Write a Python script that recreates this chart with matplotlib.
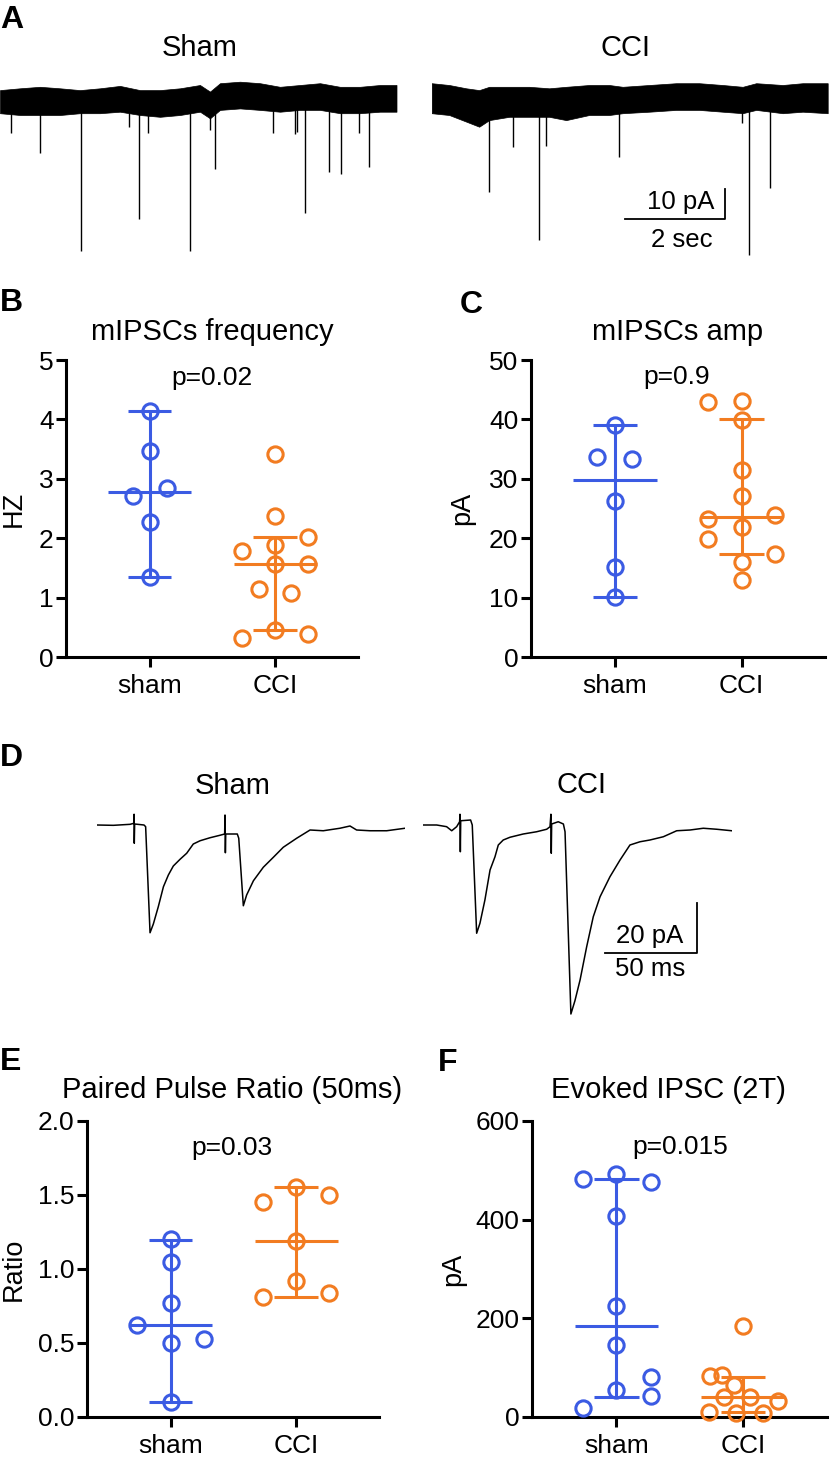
import matplotlib
matplotlib.use("Agg")
import matplotlib.pyplot as plt
import numpy as np

plt.rcParams["font.family"] = ["Liberation Sans", "DejaVu Sans"]

W, H = 831, 1461
BLUE = "#3B5BE3"
ORANGE = "#F27C21"

# ---- A: mIPSC traces (time s, current pA) ----
a_sham_env_t = [0.0, 0.4, 0.8, 1.2, 1.6, 2.0, 2.4, 2.8, 3.2, 3.6, 4.0, 4.2, 4.4, 4.8,
                5.2, 5.6, 6.0, 6.4, 6.8, 7.2, 7.6, 7.93]
a_sham_env_up = [3.3, 3.9, 4.4, 3.9, 3.3, 3.9, 4.7, 3.3, 3.3, 3.9, 5.0, 2.8, 5.6, 6.1,
                 5.6, 4.4, 5.0, 5.6, 4.4, 4.4, 5.0, 5.0]
a_sham_env_lo = [-4.4, -5.0, -5.0, -5.0, -4.4, -4.4, -3.9, -5.0, -5.6, -5.0, -3.9, -6.1, -3.3, -2.8,
                 -3.3, -3.9, -3.3, -3.3, -4.4, -4.4, -3.9, -3.9]
a_sham_evt_t = [0.21, 0.79, 1.61, 2.58, 2.77, 2.95, 3.79, 4.19, 4.31, 5.45, 5.89, 5.93,
                6.09, 6.57, 6.81, 7.17, 7.38]
a_sham_evt_amp = [-10.9, -17.8, -50.2, -8.9, -39.8, -11.0, -50.2, -10.0, -23.0, -11.1, -11.3, -10.6,
                  -37.6, -23.9, -24.7, -10.9, -22.4]

a_cci_env_t = [0.0, 0.35, 0.69, 0.95, 1.15, 1.55, 1.95, 2.35, 2.69, 3.15, 3.55, 3.82, 4.35,
               4.89, 5.35, 5.82, 6.22, 6.49, 7.02, 7.42, 7.92]
a_cci_env_up = [5.6, 5.0, 3.9, 3.3, 4.4, 4.4, 4.4, 3.9, 4.4, 5.0, 5.0, 4.4, 5.0,
                5.6, 5.6, 5.0, 4.4, 5.6, 5.0, 5.6, 5.6]
a_cci_env_lo = [-4.4, -5.0, -7.2, -8.9, -6.7, -5.6, -5.6, -5.6, -6.7, -5.0, -5.0, -4.4, -3.9,
                -3.3, -3.3, -3.9, -4.4, -3.3, -4.4, -3.9, -4.4]
a_cci_evt_t = [1.15, 1.62, 2.15, 2.29, 3.75, 6.21, 6.35, 6.77]
a_cci_evt_amp = [-30.6, -15.6, -46.7, -15.3, -19.1, -7.7, -51.7, -29.4]

# ---- D: evoked IPSC traces (time ms, current pA) ----
d_sham_t = [0, 9.1, 18.2, 20.2, 20.4, 20.5, 20.7, 25.8, 26.7, 29.1, 30.9, 33.6, 36.4, 39.1,
            41.8, 45.5, 49.1, 52.7, 56.4, 61.8, 67.3, 69.8, 70.0, 70.2, 70.4, 76.7, 77.5,
            80.0, 81.8, 85.5, 90.9, 96.4, 101.8, 109.1, 116.4, 123.6, 132.7, 138.2, 141.8,
            149.1, 158.2, 168.2]
d_sham_i = [0, -0.13, 0.27, 0.67, 4.3, -7.3, 0.4, 0, -0.67, -43.1, -39.6, -32.7, -24.7, -20.0,
            -16.4, -13.7, -11.3, -7.6, -6.3, -5.1, -4.1, -3.6, 4.0, -11.1, -3.6, -3.6, -5.3,
            -32.3, -28.0, -22.3, -16.9, -12.9, -8.9, -5.3, -2.0, -2.3, -1.3, -0.4, -2.0,
            -2.3, -2.3, -1.3]
d_cci_t = [0, 7.3, 12.7, 15.5, 18.2, 19.8, 20.0, 20.2, 20.4, 25.8, 26.7, 29.1, 30.9, 33.6,
           36.4, 39.1, 40.9, 43.6, 47.3, 54.5, 61.8, 67.3, 69.1, 69.6, 69.8, 70.0, 73.6,
           76.4, 77.3, 80.5, 82.7, 85.5, 89.1, 92.7, 96.4, 101.8, 107.3, 112.7, 118.2,
           123.6, 130.9, 138.2, 145.5, 152.7, 160.0, 168.2]
d_cci_i = [0, 0, -0.67, -2.3, -0.67, 1.3, 4.3, -10.7, 1.7, 2.0, 0, -43.3, -39.3, -30.0,
           -18.0, -12.7, -8.0, -6.0, -4.9, -3.6, -2.7, -1.7, -0.7, 4.3, -11.3, 0.4, 1.3,
           0.4, -2.7, -75.6, -70.3, -62.0, -48.7, -36.7, -28.7, -20.7, -14.0, -8.0, -6.7,
           -6.0, -4.7, -2.3, -2.0, -1.3, -1.7, -2.3]

# ---- scatter panels: values, jitter, (median, low, high) ----
groups = ["sham", "CCI"]

b_sham = [4.14, 3.46, 2.71, 2.84, 2.28, 1.35]
b_sham_dx = [0, 0, -0.135, 0.14, 0, 0]
b_sham_stat = [2.78, 1.35, 4.14]
b_cci = [3.42, 2.38, 2.02, 1.79, 1.88, 1.56, 1.56, 1.15, 1.08, 0.45, 0.32, 0.39]
b_cci_dx = [0, 0, 0.265, -0.265, 0, 0, 0.265, -0.13, 0.13, 0, -0.265, 0.265]
b_cci_stat = [1.56, 0.45, 2.02]

c_sham = [39.0, 33.7, 33.3, 26.2, 15.2, 10.1]
c_sham_dx = [0, -0.14, 0.135, 0, 0, 0]
c_sham_stat = [29.8, 10.1, 39.0]
c_cci = [43.0, 43.1, 39.9, 31.5, 27.1, 23.9, 23.3, 21.9, 19.8, 17.3, 16.0, 13.0]
c_cci_dx = [-0.265, 0, 0, 0, 0, 0.265, -0.265, 0, -0.265, 0.265, 0, 0]
c_cci_stat = [23.5, 17.3, 40.0]

e_sham = [1.20, 1.05, 0.77, 0.62, 0.53, 0.50, 0.10]
e_sham_dx = [0, 0, 0, -0.27, 0.265, 0, 0]
e_sham_stat = [0.62, 0.10, 1.195]
e_cci = [1.555, 1.45, 1.50, 1.19, 0.92, 0.81, 0.835]
e_cci_dx = [0, -0.265, 0.265, 0, 0, -0.265, 0.265]
e_cci_stat = [1.19, 0.81, 1.555]

f_sham = [483, 492, 477, 407, 225, 145, 81, 54, 42, 18]
f_sham_dx = [-0.265, 0, 0.27, 0, 0, 0, 0.27, 0, 0.27, -0.265]
f_sham_stat = [185, 40, 483]
f_cci = [185, 83, 85, 65, 41, 41, 33, 11, 9, 9]
f_cci_dx = [0, -0.26, -0.165, -0.07, -0.155, 0.055, 0.27, -0.27, -0.055, 0.155]
f_cci_stat = [41, 11, 82]


def box(x0, y0, x1, y1):
    return [x0 / W, 1 - y1 / H, (x1 - x0) / W, (y1 - y0) / H]


fig = plt.figure(figsize=(W / 100, H / 100), dpi=100)


def trace_ax(rect, xlim, ylim):
    ax = fig.add_axes(rect)
    ax.set_xlim(*xlim)
    ax.set_ylim(*ylim)
    ax.axis("off")
    return ax


# A traces
ax = trace_ax(box(0, 65, 397, 262), (0, 7.94), (-54, 11.67))
ax.fill_between(a_sham_env_t, a_sham_env_lo, a_sham_env_up, color="black", lw=0.5)
ax.vlines(a_sham_evt_t, 0, a_sham_evt_amp, color="black", lw=1.0)

ax = trace_ax(box(431.7, 65, 827.7, 262), (0, 7.92), (-54, 11.67))
ax.fill_between(a_cci_env_t, a_cci_env_lo, a_cci_env_up, color="black", lw=0.5)
ax.vlines(a_cci_evt_t, 0, a_cci_evt_amp, color="black", lw=1.0)
ax.plot([3.87, 5.87, 5.87], [-39.7, -39.7, -29.7], color="black", lw=1.3)
ax.text(4.97, -34, "10 pA", ha="center", va="center", fontsize=18.5)
ax.text(5.0, -46.7, "2 sec", ha="center", va="center", fontsize=18.5)

# D traces
ax = trace_ax(box(96.7, 795, 405, 1025), (0, 168.2), (-80, 12))
ax.plot(d_sham_t, d_sham_i, color="black", lw=1.1)
ax = trace_ax(box(423.3, 795, 731.7, 1025), (0, 168.2), (-80, 12))
ax.plot(d_cci_t, d_cci_i, color="black", lw=1.1)
ax.plot([99.1, 149.1, 149.1], [-51.1, -51.1, -31.1], color="black", lw=1.3)
ax.text(123.7, -44.4, "20 pA", ha="center", va="center", fontsize=18.5)
ax.text(123.7, -57.6, "50 ms", ha="center", va="center", fontsize=18.5)

# condition labels and panel letters
for x, y, s in [(200, 48, "Sham"), (625, 48, "CCI"), (233, 786, "Sham"), (581, 785, "CCI")]:
    fig.text(x / W, 1 - y / H, s, ha="center", va="center", fontsize=21)
for x, y, s in [(0, 5, "A"), (0, 288, "B"), (460, 290, "C"), (0, 743, "D"), (0, 1047, "E"),
                (438, 1048, "F")]:
    fig.text(x / W, 1 - y / H, s, ha="left", va="top", fontsize=23, fontweight="bold")


def scatter_panel(rect, sham, sham_dx, sham_stat, cci, cci_dx, cci_stat,
                  ylim, yticks, ylabel, ylab_x, title, title_x, title_y, ptext, pxy, fmt=None):
    ax = fig.add_axes(rect)
    for i, (vals, dx, st, col) in enumerate([(sham, sham_dx, sham_stat, BLUE),
                                             (cci, cci_dx, cci_stat, ORANGE)]):
        med, lo, hi = st
        ax.vlines(i, lo, hi, color=col, lw=2.2, zorder=3)
        ax.hlines([lo, hi], i - 0.175, i + 0.175, color=col, lw=2.2, zorder=3)
        ax.hlines(med, i - 0.33, i + 0.33, color=col, lw=2.2, zorder=3)
        ax.plot(np.array(dx) + i, vals, "o", ms=11, mfc="none", mec=col, mew=2.2,
                zorder=4, clip_on=False)
    ax.set_xlim(-0.665, 1.66)
    ax.set_ylim(*ylim)
    ax.set_xticks([0, 1])
    ax.set_xticklabels(groups, fontsize=19)
    ax.set_yticks(yticks)
    if fmt:
        ax.set_yticklabels([fmt % v for v in yticks])
    ax.tick_params(axis="y", labelsize=19, length=7, width=2.2, pad=2)
    ax.tick_params(axis="x", length=7, width=2.2, pad=5)
    for side in ["top", "right"]:
        ax.spines[side].set_visible(False)
    for side in ["left", "bottom"]:
        ax.spines[side].set_linewidth(2.2)
    ax.set_ylabel(ylabel, fontsize=19.5, va="center")
    ax.yaxis.set_label_coords(ylab_x, 0.5)
    ax.text(title_x, title_y, title, transform=ax.transAxes, ha="center", va="center",
            fontsize=21)
    ax.text(pxy[0], pxy[1], ptext, ha="center", va="center", fontsize=19)
    return ax


scatter_panel(box(66, 360, 358, 657), b_sham, b_sham_dx, b_sham_stat, b_cci, b_cci_dx,
              b_cci_stat, (0, 5), [0, 1, 2, 3, 4, 5], "HZ", -0.178,
              "mIPSCs frequency", 0.5, 1.094, "p=0.02", (0.5, 4.70))
scatter_panel(box(531, 360, 825, 657), c_sham, c_sham_dx, c_sham_stat, c_cci, c_cci_dx,
              c_cci_stat, (0, 50), [0, 10, 20, 30, 40, 50], "pA", -0.235,
              "mIPSCs amp", 0.5, 1.094, "p=0.9", (0.49, 47.1))
scatter_panel(box(87, 1121, 379, 1417), e_sham, e_sham_dx, e_sham_stat, e_cci, e_cci_dx,
              e_cci_stat, (0, 2.0), [0, 0.5, 1.0, 1.5, 2.0], "Ratio", -0.252,
              "Paired Pulse Ratio (50ms)", 0.498, 1.105, "p=0.03", (0.49, 1.82), fmt="%.1f")
scatter_panel(box(532, 1121, 827, 1417), f_sham, f_sham_dx, f_sham_stat, f_cci, f_cci_dx,
              f_cci_stat, (0, 600), [0, 200, 400, 600], "pA", -0.268,
              "Evoked IPSC (2T)", 0.461, 1.105, "p=0.015", (0.5, 547))

fig.savefig("out.png", dpi=100)
